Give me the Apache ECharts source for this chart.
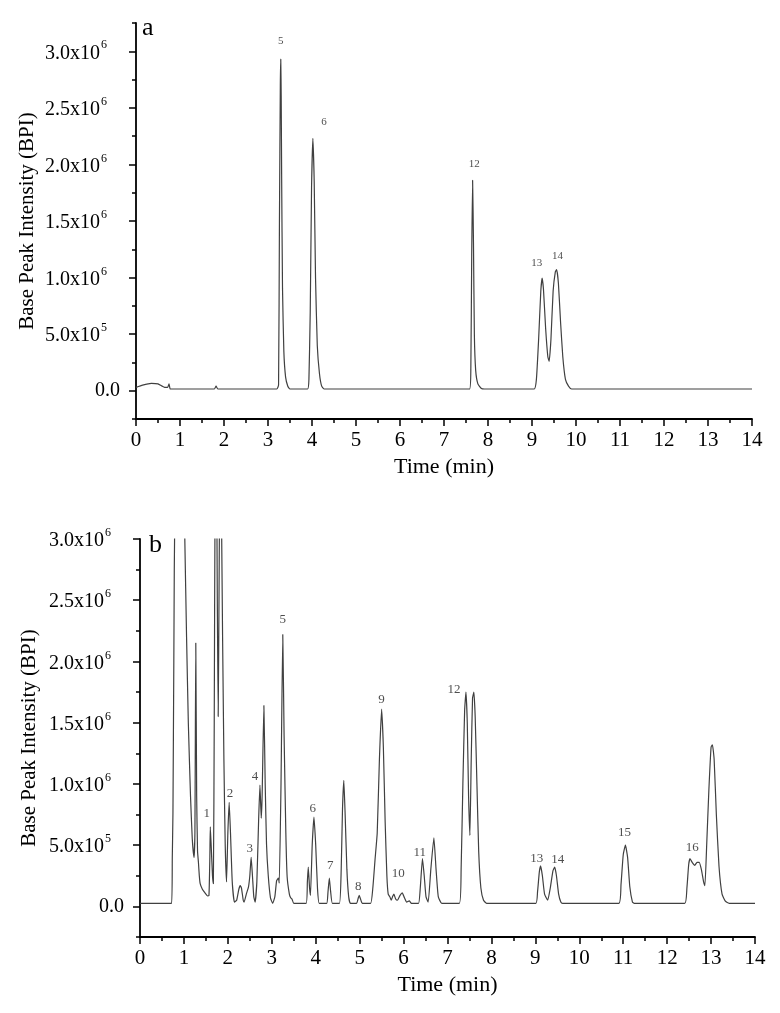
<!DOCTYPE html>
<html>
<head>
<meta charset="utf-8">
<title>BPI chromatograms</title>
<script src="https://cdn.jsdelivr.net/npm/echarts@6.0.0/dist/echarts.min.js"></script>
<style>
body{margin:0;background:#fff;}
#main{width:780px;height:1013px;}
</style>
</head>
<body>
<div id="main"></div>
<script>
// 数据: [time (min), intensity]
var traceA = [
  [0, 0.03e6], [0.15, 0.05e6], [0.35, 0.065e6], [0.5, 0.06e6], [0.65, 0.03e6], [0.72, 0.03e6],
  [0.75, 0.06e6], [0.78, 0.015e6], [1.0, 0.015e6], [1.78, 0.015e6], [1.82, 0.04e6], [1.86, 0.015e6],
  [3.2, 0.015e6], [3.24, 0.05e6], [3.26, 1.5e6], [3.28, 2.7e6], [3.29, 2.93e6], [3.30, 2.6e6],
  [3.31, 1.9e6], [3.33, 0.9e6], [3.36, 0.35e6], [3.40, 0.12e6], [3.45, 0.04e6], [3.5, 0.015e6],
  [3.9, 0.015e6], [3.93, 0.1e6], [3.96, 0.7e6], [3.99, 1.8e6], [4.02, 2.23e6], [4.05, 1.85e6],
  [4.08, 1.0e6], [4.12, 0.4e6], [4.17, 0.15e6], [4.22, 0.04e6], [4.28, 0.015e6],
  [7.58, 0.015e6], [7.61, 0.2e6], [7.63, 1.2e6], [7.65, 1.86e6], [7.67, 1.3e6], [7.69, 0.5e6],
  [7.72, 0.18e6], [7.77, 0.06e6], [7.85, 0.02e6], [7.92, 0.015e6],
  [9.05, 0.015e6], [9.1, 0.1e6], [9.15, 0.45e6], [9.2, 0.88e6], [9.23, 0.995e6], [9.26, 0.9e6],
  [9.31, 0.55e6], [9.36, 0.3e6], [9.39, 0.26e6], [9.43, 0.45e6], [9.48, 0.88e6], [9.53, 1.05e6],
  [9.56, 1.07e6], [9.6, 0.95e6], [9.65, 0.6e6], [9.7, 0.3e6], [9.76, 0.1e6], [9.83, 0.04e6],
  [9.9, 0.015e6], [14, 0.015e6]
];
var traceB = [
  [0, 0.025e6], [0.72, 0.025e6], [0.735, 0.4e6], [0.75, 0.76e6], [0.77, 2.0e6], [0.8, 3.5e6],
  [0.9, 3.8e6], [1.0, 3.4e6], [1.02, 3.0e6], [1.06, 2.2e6], [1.1, 1.5e6], [1.15, 0.9e6],
  [1.19, 0.55e6], [1.23, 0.40e6], [1.25, 0.6e6], [1.27, 2.15e6], [1.29, 0.9e6], [1.31, 0.45e6],
  [1.33, 0.36e6], [1.35, 0.25e6], [1.37, 0.185e6], [1.42, 0.14e6], [1.48, 0.11e6], [1.54, 0.085e6],
  [1.57, 0.09e6], [1.59, 0.4e6], [1.60, 0.65e6], [1.62, 0.5e6], [1.65, 0.25e6], [1.67, 0.185e6],
  [1.69, 1.5e6], [1.71, 3.4e6], [1.74, 3.6e6], [1.76, 2.5e6], [1.78, 1.55e6], [1.8, 2.6e6],
  [1.82, 3.6e6], [1.85, 3.3e6], [1.86, 3.0e6], [1.88, 2.2e6], [1.91, 1.2e6], [1.94, 0.5e6],
  [1.97, 0.2e6], [2.0, 0.6e6], [2.03, 0.85e6], [2.06, 0.6e6], [2.1, 0.2e6], [2.15, 0.035e6],
  [2.2, 0.05e6], [2.25, 0.14e6], [2.28, 0.17e6], [2.31, 0.15e6], [2.35, 0.05e6], [2.37, 0.035e6],
  [2.42, 0.1e6], [2.47, 0.16e6], [2.5, 0.25e6], [2.53, 0.40e6], [2.56, 0.25e6], [2.59, 0.08e6],
  [2.62, 0.035e6], [2.66, 0.2e6], [2.7, 0.7e6], [2.73, 0.99e6], [2.76, 0.72e6], [2.78, 0.9e6],
  [2.82, 1.64e6], [2.85, 1.0e6], [2.88, 0.51e6], [2.92, 0.25e6], [2.97, 0.07e6], [3.02, 0.025e6],
  [3.07, 0.08e6], [3.11, 0.21e6], [3.15, 0.23e6], [3.17, 0.19e6], [3.21, 1.0e6], [3.25, 2.22e6],
  [3.28, 1.4e6], [3.32, 0.6e6], [3.35, 0.24e6], [3.40, 0.1e6], [3.43, 0.07e6], [3.46, 0.06e6],
  [3.5, 0.025e6], [3.78, 0.025e6], [3.81, 0.2e6], [3.83, 0.32e6], [3.86, 0.15e6], [3.88, 0.09e6],
  [3.92, 0.5e6], [3.96, 0.73e6], [4.0, 0.5e6], [4.04, 0.15e6], [4.08, 0.025e6],
  [4.25, 0.025e6], [4.28, 0.12e6], [4.31, 0.23e6], [4.34, 0.12e6], [4.38, 0.025e6],
  [4.54, 0.025e6], [4.58, 0.3e6], [4.61, 0.8e6], [4.64, 1.03e6], [4.67, 0.75e6], [4.71, 0.3e6],
  [4.75, 0.08e6], [4.79, 0.025e6], [4.93, 0.025e6], [4.97, 0.07e6], [4.99, 0.09e6], [5.02, 0.06e6],
  [5.06, 0.025e6], [5.25, 0.025e6], [5.3, 0.15e6], [5.35, 0.38e6], [5.4, 0.6e6], [5.45, 1.2e6],
  [5.5, 1.61e6], [5.54, 1.3e6], [5.58, 0.7e6], [5.62, 0.25e6], [5.65, 0.10e6], [5.69, 0.076e6],
  [5.72, 0.05e6], [5.75, 0.08e6], [5.78, 0.1e6], [5.82, 0.06e6], [5.86, 0.05e6], [5.92, 0.09e6],
  [5.97, 0.11e6], [6.02, 0.07e6], [6.07, 0.035e6], [6.13, 0.045e6], [6.18, 0.025e6],
  [6.34, 0.025e6], [6.38, 0.15e6], [6.43, 0.39e6], [6.47, 0.25e6], [6.51, 0.08e6], [6.56, 0.035e6],
  [6.62, 0.3e6], [6.69, 0.56e6], [6.74, 0.3e6], [6.79, 0.08e6], [6.87, 0.025e6],
  [7.27, 0.025e6], [7.31, 0.3e6], [7.35, 1.0e6], [7.39, 1.6e6], [7.42, 1.75e6], [7.45, 1.5e6],
  [7.48, 0.9e6], [7.51, 0.58e6], [7.54, 1.2e6], [7.57, 1.7e6], [7.60, 1.75e6], [7.63, 1.55e6],
  [7.67, 1.0e6], [7.71, 0.45e6], [7.76, 0.15e6], [7.82, 0.05e6], [7.89, 0.025e6],
  [9.01, 0.025e6], [9.05, 0.12e6], [9.09, 0.28e6], [9.12, 0.33e6], [9.16, 0.25e6], [9.21, 0.1e6],
  [9.28, 0.05e6], [9.34, 0.15e6], [9.4, 0.29e6], [9.44, 0.32e6], [9.48, 0.25e6], [9.53, 0.1e6],
  [9.58, 0.035e6], [9.62, 0.025e6], [10.9, 0.025e6], [10.95, 0.18e6], [11.0, 0.42e6], [11.05, 0.5e6],
  [11.1, 0.4e6], [11.15, 0.16e6], [11.21, 0.035e6], [11.25, 0.025e6],
  [12.40, 0.025e6], [12.45, 0.15e6], [12.49, 0.34e6], [12.52, 0.39e6], [12.57, 0.36e6],
  [12.63, 0.335e6], [12.68, 0.36e6], [12.73, 0.36e6], [12.78, 0.3e6], [12.83, 0.2e6], [12.86, 0.17e6],
  [12.9, 0.5e6], [12.95, 0.95e6], [13.0, 1.3e6], [13.03, 1.32e6], [13.07, 1.2e6], [13.12, 0.75e6],
  [13.18, 0.33e6], [13.25, 0.1e6], [13.33, 0.04e6], [13.41, 0.025e6], [14.0, 0.025e6]
];
// 峰标注: [time, intensity, text]
var peakLabelsA = [
  [3.29, 3.09e6, '5'], [4.27, 2.37e6, '6'], [7.69, 2.0e6, '12'], [9.11, 1.13e6, '13'], [9.58, 1.19e6, '14']
];
var peakLabelsB = [
  [1.52, 0.76e6, '1'], [2.05, 0.92e6, '2'], [2.5, 0.47e6, '3'], [2.62, 1.06e6, '4'],
  [3.25, 2.34e6, '5'], [3.93, 0.80e6, '6'], [4.33, 0.33e6, '7'], [4.97, 0.16e6, '8'],
  [5.50, 1.69e6, '9'], [5.88, 0.27e6, '10'], [6.37, 0.44e6, '11'], [7.15, 1.77e6, '12'],
  [9.03, 0.39e6, '13'], [9.51, 0.38e6, '14'], [11.03, 0.6e6, '15'], [12.57, 0.48e6, '16']
];
// 刻度
var yMajorA = [0, 0.5e6, 1.0e6, 1.5e6, 2.0e6, 2.5e6, 3.0e6];
var yMinorA = [-0.25e6, 0.25e6, 0.75e6, 1.25e6, 1.75e6, 2.25e6, 2.75e6, 3.25e6];
var yMajorB = [0, 0.5e6, 1.0e6, 1.5e6, 2.0e6, 2.5e6, 3.0e6];
var yMinorB = [-0.25e6, 0.25e6, 0.75e6, 1.25e6, 1.75e6, 2.25e6, 2.75e6];
var yTickText = ['0.0', '5.0x10^5', '1.0x10^6', '1.5x10^6', '2.0x10^6', '2.5x10^6', '3.0x10^6'];

var FONT = 'Liberation Serif';

function yFmt(v) {
  var i = yMajorA.indexOf(v);
  if (i < 0) return '';
  var parts = yTickText[i].split('^');
  if (parts.length == 1) return '{z|' + parts[0] + '}';
  return '{n|' + parts[0] + '}{e|' + parts[1] + '}';
}

function xAxisOf(idx) {
  return {
    type: 'value', gridIndex: idx, min: 0, max: 14, interval: 1,
    name: 'Time (min)', nameLocation: 'middle', nameGap: 37,
    nameTextStyle: {fontFamily: FONT, fontSize: 22, color: '#000'},
    axisLine: {onZero: false, lineStyle: {color: '#000', width: 1.8}},
    axisTick: {length: 7, lineStyle: {color: '#000', width: 1.5}},
    minorTick: {show: true, splitNumber: 2, length: 4, lineStyle: {color: '#000', width: 1.5}},
    axisLabel: {fontFamily: FONT, fontSize: 21, color: '#000', margin: 11},
    splitLine: {show: false}
  };
}

function yAxesOf(idx, maxV, major, minor, gap) {
  return [{
    type: 'value', gridIndex: idx, position: 'left', min: -0.25e6, max: maxV,
    name: 'Base Peak Intensity (BPI)', nameLocation: 'middle', nameGap: gap,
    nameMoveOverlap: false,
    nameTextStyle: {fontFamily: FONT, fontSize: 21, color: '#000'},
    axisLine: {show: true, onZero: false, lineStyle: {color: '#000', width: 1.8}},
    axisTick: {show: true, length: 7, customValues: major, lineStyle: {color: '#000', width: 1.5}},
    axisLabel: {
      customValues: major, margin: 12, formatter: yFmt,
      rich: {
        z: {fontFamily: FONT, fontSize: 20, color: '#000', lineHeight: 24, padding: [0, 4, 0, 0]},
        n: {fontFamily: FONT, fontSize: 20, color: '#000', lineHeight: 24, verticalAlign: 'bottom'},
        e: {fontFamily: FONT, fontSize: 12, color: '#000', lineHeight: 24, verticalAlign: 'top',
          padding: [0, 17, 0, 1]}
      }
    },
    splitLine: {show: false}
  }, {
    type: 'value', gridIndex: idx, position: 'left', offset: 0, min: -0.25e6, max: maxV,
    axisLine: {show: false},
    axisTick: {show: true, length: 4, customValues: minor, lineStyle: {color: '#000', width: 1.5}},
    axisLabel: {show: false},
    splitLine: {show: false}
  }];
}

function labelSeries(xi, yi, data, size) {
  return {
    type: 'scatter', xAxisIndex: xi, yAxisIndex: yi, data: data,
    symbolSize: 1, itemStyle: {color: 'rgba(0,0,0,0)'}, silent: true,
    label: {show: true, position: 'inside', formatter: function (p) { return p.data[2]; },
      fontFamily: FONT, fontSize: size, color: '#222'}
  };
}

var chart = echarts.init(document.getElementById('main'));
var yA = yAxesOf(0, 3.25e6, yMajorA, yMinorA, 98);
var yB = yAxesOf(1, 3.0e6, yMajorB, yMinorB, 100);
var option = {
  backgroundColor: '#fff',
  animation: false,
  grid: [
    {left: 136, top: 23, width: 616, height: 396},
    {left: 140, top: 539, width: 615, height: 398}
  ],
  xAxis: [xAxisOf(0), xAxisOf(1)],
  yAxis: [yA[0], yA[1], yB[0], yB[1]],
  graphic: [
    {type: 'text', left: 142, top: 15, style: {text: 'a', fontFamily: FONT, fontSize: 26, fill: '#000'}},
    {type: 'text', left: 149, top: 532, style: {text: 'b', fontFamily: FONT, fontSize: 26, fill: '#000'}}
  ],
  series: [
    {type: 'line', xAxisIndex: 0, yAxisIndex: 0, data: traceA, showSymbol: false, smooth: 0.15,
      lineStyle: {color: '#404040', width: 1.2}, clip: true},
    {type: 'line', xAxisIndex: 1, yAxisIndex: 2, data: traceB, showSymbol: false, smooth: 0.15,
      lineStyle: {color: '#404040', width: 1.2}, clip: true},
    labelSeries(0, 0, peakLabelsA, 11),
    labelSeries(1, 2, peakLabelsB, 13)
  ]
};
chart.setOption(option);
</script>
</body>
</html>
